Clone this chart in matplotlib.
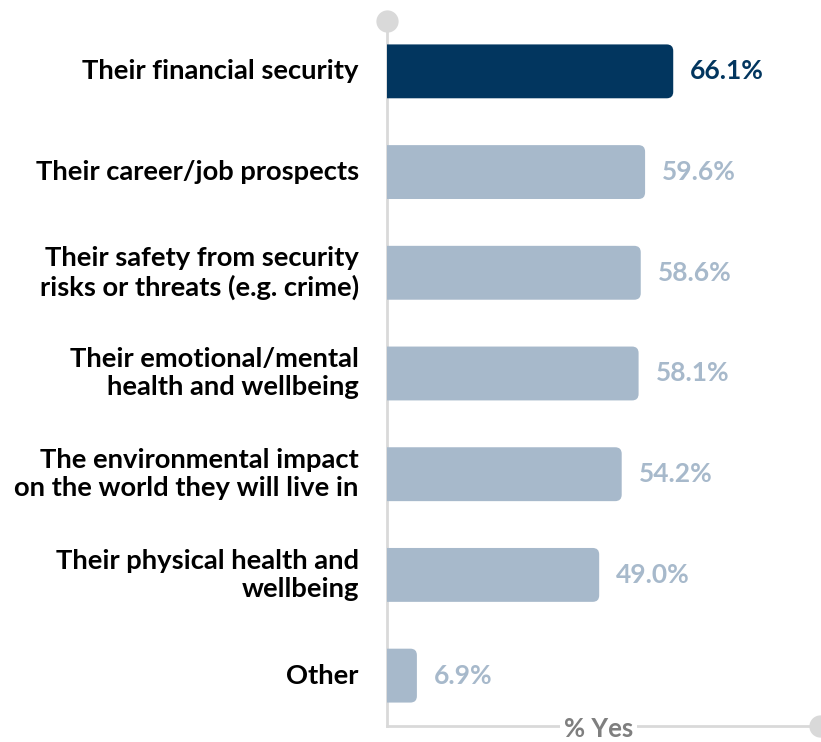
import matplotlib.pyplot as plt
from matplotlib.patches import FancyBboxPatch

categories = [
    "Their financial security",
    "Their career/job prospects",
    "Their safety from security\nrisks or threats (e.g. crime)",
    "Their emotional/mental\nhealth and wellbeing",
    "The environmental impact\non the world they will live in",
    "Their physical health and\nwellbeing",
    "Other",
]
values = [66.1, 59.6, 58.6, 58.1, 54.2, 49.0, 6.9]
value_labels = ["66.1%", "59.6%", "58.6%", "58.1%", "54.2%", "49.0%", "6.9%"]

DARK = "#02365f"
LIGHT = "#a7b9cb"
AXIS = "#d9d9d9"

plt.rcParams['font.family'] = ['Lato', 'DejaVu Sans']

fig = plt.figure(figsize=(8.21, 7.42), dpi=100)
ax = fig.add_axes([0.4714, 0.0216, 0.5274, 0.9501])
ax.set_xlim(0, 100)
ax.set_ylim(6.5, -0.5)

bar_h = 0.535
# rounded bar ends: radius in x units, aspect converts it to y units
px_x = 0.5274 * 821 / 100
px_y = 0.9501 * 742 / 7
r = 1.5
for i, (v, lab) in enumerate(zip(values, value_labels)):
    color = DARK if i == 0 else LIGHT
    box = FancyBboxPatch((-3, i - bar_h / 2), v + 3, bar_h,
                         boxstyle=f"round,pad=0,rounding_size={r}",
                         mutation_aspect=px_x / px_y,
                         fc=color, ec='none')
    ax.add_patch(box)
    ax.text(v + 3.9, i, lab, ha='left', va='center', fontsize=19,
            fontweight='bold', color=color)
    ax.text(-0.065, i, categories[i], transform=ax.get_yaxis_transform(),
            ha='right', va='center', fontsize=19.7, fontweight='bold',
            color='black', linespacing=1.2)

for s in ax.spines.values():
    s.set_visible(False)
ax.set_xticks([])
ax.set_yticks([])

# axis lines with end markers
ax.plot([0, 0], [6.5, -0.5], color=AXIS, lw=2, clip_on=False, zorder=0)
ax.plot([0, 100], [6.5, 6.5], color=AXIS, lw=2, clip_on=False, zorder=0)
ax.plot([0], [-0.5], 'o', ms=15, color=AXIS, clip_on=False, zorder=3)
ax.plot([100], [6.5], 'o', ms=15, color=AXIS, clip_on=False, zorder=3)
ax.text(48.8, 6.535, "% Yes", ha='center', va='center', fontsize=18.5,
        fontweight='bold', color='#7f7f7f', zorder=4,
        bbox=dict(fc='white', ec='none', pad=3))

fig.savefig("out.png", dpi=100)
